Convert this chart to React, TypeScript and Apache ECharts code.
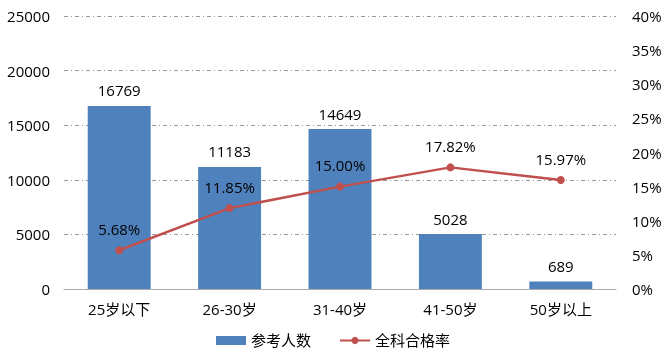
import React, { useEffect, useRef } from "react";
import * as echarts from "echarts";

const categories = ["25岁以下", "26-30岁", "31-40岁", "41-50岁", "50岁以上"];
const examinees = [16769, 11183, 14649, 5028, 689];
const passRate = [5.68, 11.85, 15.0, 17.82, 15.97];

const FONT = "'Open Sans', 'Noto Sans CJK SC', sans-serif";
const FS = 15;

export default function App() {
  const ref = useRef<HTMLDivElement>(null);
  useEffect(() => {
    if (!ref.current) return;
    const chart = echarts.init(ref.current, undefined, { renderer: "svg" });
    chart.setOption({
      animation: false,
      textStyle: { fontFamily: FONT, color: "#000" },
      grid: { left: 64, right: 50, top: 16, bottom: 68 },
      legend: {
        bottom: 4,
        left: "center",
        itemGap: 28,
        itemWidth: 30,
        itemHeight: 9,
        textStyle: { fontSize: FS, color: "#000", fontFamily: FONT },
        data: [
          { name: "参考人数", icon: "rect" },
          { name: "全科合格率" },
        ],
      },
      xAxis: {
        type: "category",
        data: categories,
        axisTick: { show: false },
        axisLine: { lineStyle: { color: "#aaa", width: 1 } },
        axisLabel: { fontSize: FS, color: "#000", margin: 12, fontFamily: FONT },
      },
      yAxis: [
        {
          type: "value",
          min: 0,
          max: 25000,
          interval: 5000,
          axisLine: { show: false },
          axisTick: { show: false },
          axisLabel: {
            fontSize: FS,
            color: "#000",
            margin: 14,
            fontFamily: FONT,
            formatter: (v: number) => String(v),
          },
          splitLine: {
            lineStyle: { color: "#999", type: [4, 3, 1, 3], width: 1 },
          },
        },
        {
          type: "value",
          min: 0,
          max: 40,
          interval: 5,
          axisLine: { show: false },
          axisTick: { show: false },
          splitLine: { show: false },
          axisLabel: {
            fontSize: FS,
            color: "#000",
            margin: 16,
            fontFamily: FONT,
            formatter: (v: number) => v + "%",
          },
        },
      ],
      series: [
        {
          name: "参考人数",
          type: "bar",
          data: examinees,
          barCategoryGap: "43%",
          itemStyle: { color: "#4F81BD" },
          label: {
            show: true,
            position: "top",
            distance: 8,
            fontSize: FS,
            color: "#000",
            fontFamily: FONT,
          },
        },
        {
          name: "全科合格率",
          type: "line",
          yAxisIndex: 1,
          data: passRate,
          symbol: "circle",
          symbolSize: 8,
          lineStyle: { color: "#C0504D", width: 2.5 },
          itemStyle: { color: "#C0504D" },
          label: {
            show: true,
            position: "top",
            distance: 10,
            fontSize: FS,
            color: "#000",
            fontFamily: FONT,
            formatter: (p: any) => p.value.toFixed(2) + "%",
          },
        },
      ],
    });
    return () => chart.dispose();
  }, []);
  return (
    <div
      ref={ref}
      style={{ position: "fixed", left: 0, top: 0, width: 666, height: 357 }}
    />
  );
}
